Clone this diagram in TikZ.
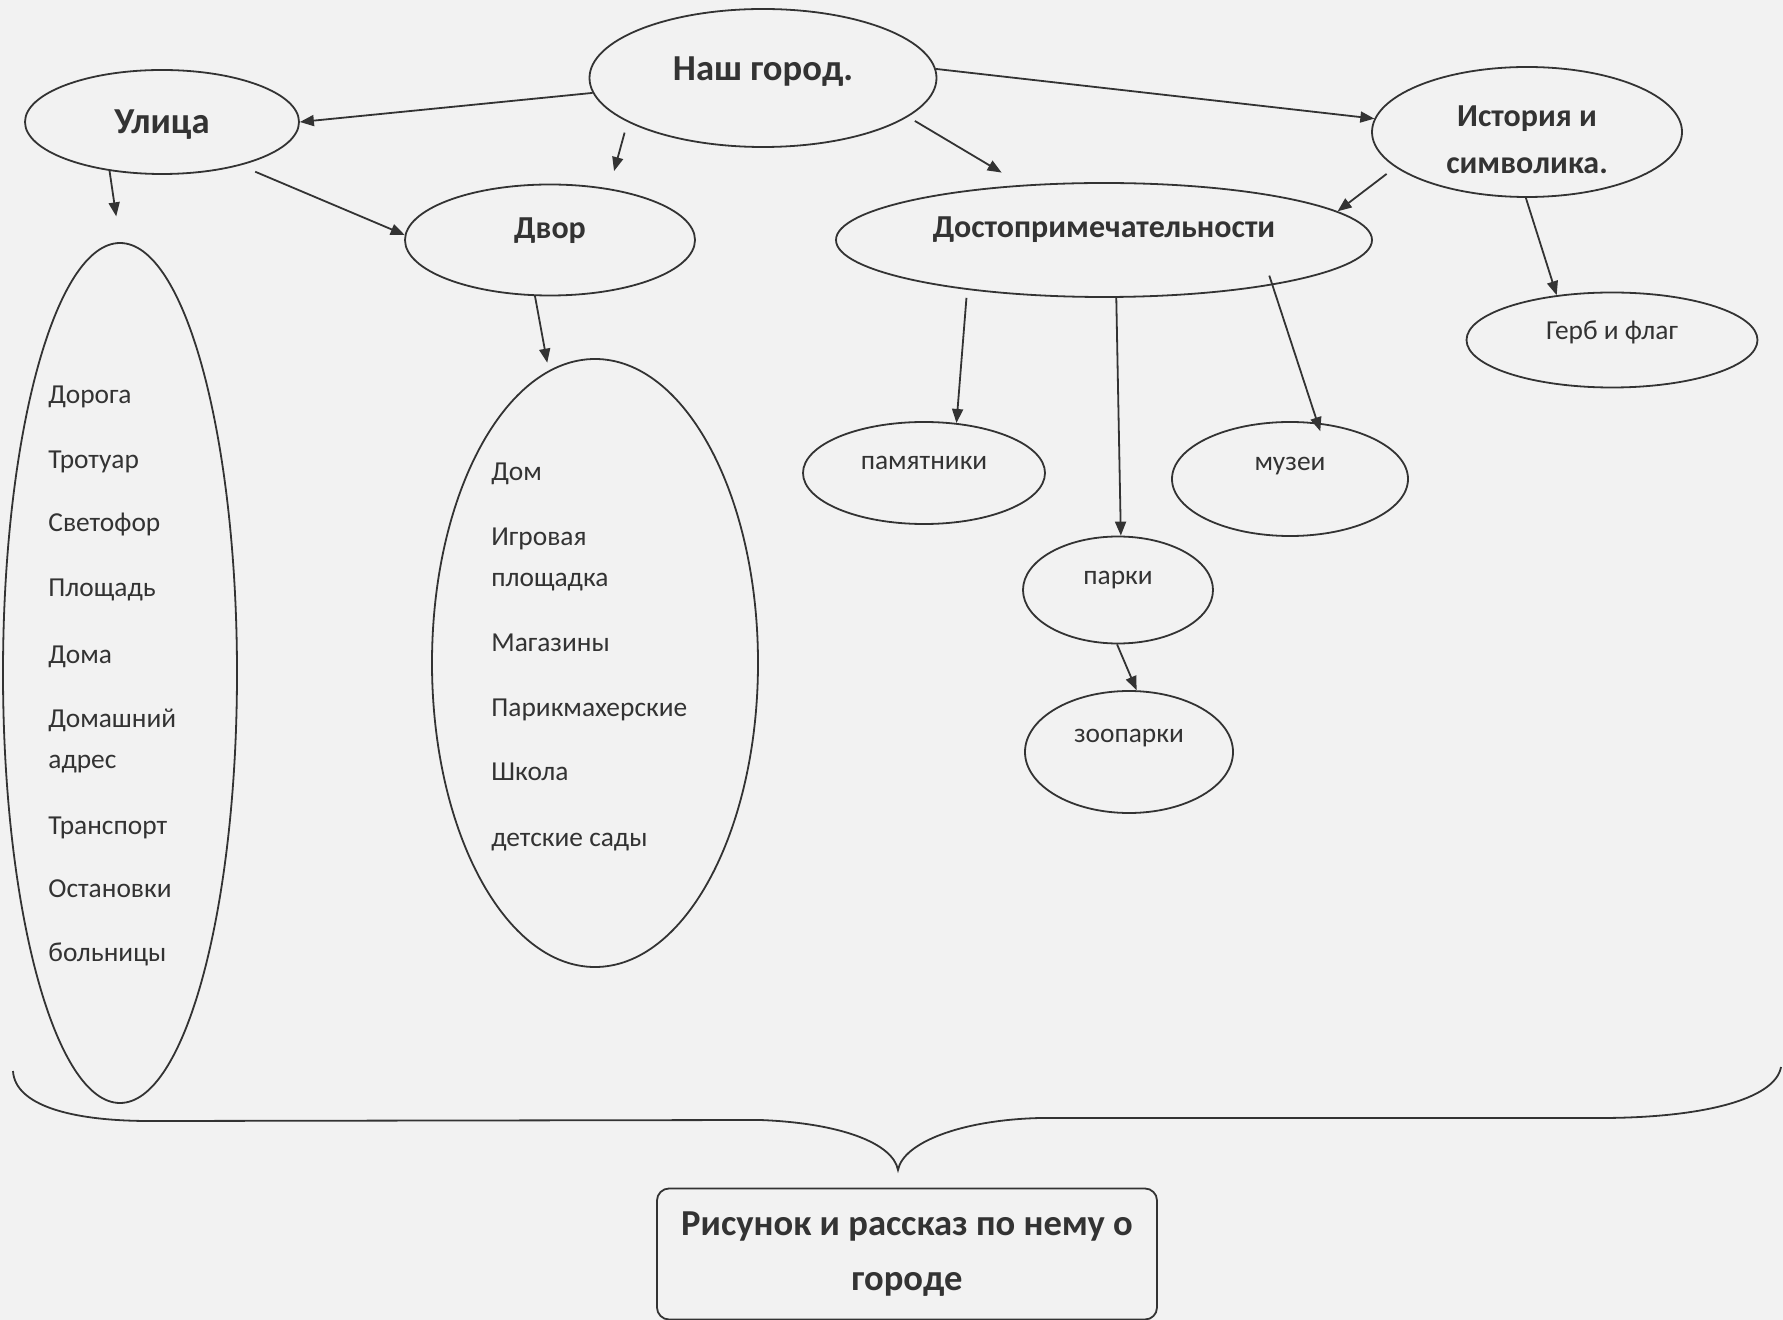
\documentclass[tikz,border=0pt]{standalone}
\usepackage{fontspec}
\setmainfont{Carlito}
\usetikzlibrary{positioning,arrows.meta,shapes.geometric}

\begin{document}
\begin{tikzpicture}[
    x=0.5pt, y=-0.5pt,
    >={Triangle[length=7pt,width=5.5pt]},
    node distance=32pt,
    ovalnode/.style={ellipse, draw=black!80, line width=0.9pt, inner sep=0pt, text=black!80},
    titelfont/.style={font=\fontsize{16}{23.3}\selectfont\bfseries},
    titel/.style={titelfont, text height=12pt, text depth=#1},
    titel/.default=3.5pt,
    gross/.style={font=\fontsize{18.3}{23.5}\selectfont\bfseries, text height=13.5pt, text depth=#1},
    gross/.default=4pt,
    klein/.style={font=\fontsize{13.7}{20.5}\selectfont, text height=10pt, text depth=#1},
    klein/.default=3pt,
    punkt/.style={anchor=west, inner sep=0pt, text=black!80, font=\fontsize{13.7}{20.5}\selectfont, text height=10pt, text depth=3pt},
    punkte/.style={anchor=west, inner sep=0pt, text=black!80, font=\fontsize{13.7}{20.5}\selectfont, align=left},
    kasten/.style={rectangle, rounded corners=6pt, draw=black!80, line width=0.9pt, align=center, text=black!80,
        font=\fontsize{18.3}{27.5}\selectfont\bfseries},
    pfeil/.style={->, draw=black!80, line width=0.9pt}
    ]
        \fill[black!5] (0,0) rectangle (1783,1320);
        \useasboundingbox (0,0) rectangle (1783,1320);

        %Nodes
        \node[ovalnode, gross=11pt, minimum width=173.5pt, minimum height=69pt]
            (gorod)     at (763,78)     {Наш город.};
        \node[ovalnode, gross=2pt, minimum width=137pt, minimum height=52pt]
            (ulica)     at (162,122)    {Улица};
        \node[ovalnode, titel=13.5pt, minimum width=145pt, minimum height=55.5pt]
            (dvor)      at (550,240)    {Двор};
        \node[ovalnode, titel=14.5pt, minimum width=268pt, minimum height=57pt]
            (dost)      at (1104,240)   {Достопримечательности};
        \node[ovalnode, titelfont, align=center, minimum width=155pt, minimum height=65pt]
            (istor)     at (1527,132)   {\rule{0pt}{18pt}История и\\символика.};
        \node[ovalnode, klein=10pt, minimum width=145.5pt, minimum height=47.5pt]
            (gerb)      at (1612,340)   {Герб и флаг};
        \node[ovalnode, klein=13pt, minimum width=121pt, minimum height=51pt]
            (pam)       at (924,473)    {памятники};
        \node[ovalnode, klein=18pt, minimum width=118pt, minimum height=57pt]
            (muz)       at (1290,479)   {музеи};
        \node[ovalnode, klein=15pt, minimum width=95pt, minimum height=53.5pt]
            (park)      at (1118,590)   {парки};
        \node[ovalnode, klein=20pt, minimum width=104pt, minimum height=61pt]
            (zoo)       at (1129,752)   {зоопарки};
        \node[ovalnode, minimum width=117pt, minimum height=430pt]
            (ulSpisok)  at (120,673)    {};
        \node[ovalnode, minimum width=163pt, minimum height=304pt]
            (dvSpisok)  at (595,663)    {};
        \node[kasten, minimum width=250pt, minimum height=65.5pt]
            (risunok)   at (907,1254)   {Рисунок и рассказ по нему о\\городе};

        %Street list
        \node[punkt]    (u1)    at (48,397)     {Дорога};
        \node (u2)  [below=32.5pt of u1.west, punkt]    {Тротуар};
        \node (u3)  [below=31.5pt of u2.west, punkt]    {Светофор};
        \node (u4)  [below=32.5pt of u3.west, punkt]    {Площадь};
        \node (u5)  [below=33pt of u4.west, punkt]      {Дома};
        \node (u6)  [below=42.25pt of u5.west, punkte]  {Домашний\\адрес};
        \node (u7)  [below=43.25pt of u6.west, punkt]   {Транспорт};
        \node (u8)  [below=31.5pt of u7.west, punkt]    {Остановки};
        \node (u9)  [below=32pt of u8.west, punkt]      {больницы};

        %Yard list
        \node[punkt]    (d1)    at (491,474)    {Дом};
        \node (d2)  [below=42.75pt of d1.west, punkte]  {Игровая\\площадка};
        \node (d3)  [below=42.75pt of d2.west, punkt]   {Магазины};
        \node (d4)  [below=of d3.west, punkt]           {Парикмахерские};
        \node (d5)  [below=of d4.west, punkt]           {Школа};
        \node (d6)  [below=33pt of d5.west, punkt]      {детские сады};

        %Lines
        \draw[pfeil] (gorod.185) -- (ulica.east);
        \draw[pfeil, shorten <=5.5pt, shorten >=9pt] (gorod.198) -- (dvor.41);
        \draw[pfeil, shorten <=4pt, shorten >=12pt] (gorod.345) -- (dost.146);
        \draw[pfeil] (gorod.3) -- (istor.175);
        \draw[pfeil, shorten >=13pt] (ulica.223) -- (ulSpisok.north);
        \draw[pfeil, shorten <=8pt] (ulica.331) -- (dvor.178);
        \draw[pfeil, shorten >=4pt] (dvor.255) -- (dvSpisok.99);
        \draw[pfeil, shorten <=5.5pt] (istor.195) -- (dost.7);
        \draw[pfeil] (istor.269) -- (gerb.141);
        \draw[pfeil, shorten <=4pt] (dost.200) -- (pam.57);
        \draw[pfeil] (dost.282) -- (park.87);
        \draw[pfeil, shorten <=-5pt, shorten >=-4.5pt] (dost.345) -- (muz.64);
        \draw[pfeil] (park.269) -- (zoo.83);

        %Brace
        \draw[black!80, line width=0.9pt]
            (13,1071) .. controls (15,1105) and (70,1121) .. (150,1121)
            -- (760,1120) .. controls (840,1123) and (893,1143) .. (898,1170)
            .. controls (903,1143) and (960,1120) .. (1040,1118)
            -- (1600,1118) .. controls (1700,1118) and (1775,1100) .. (1781,1067);
    \end{tikzpicture}
\end{document}
